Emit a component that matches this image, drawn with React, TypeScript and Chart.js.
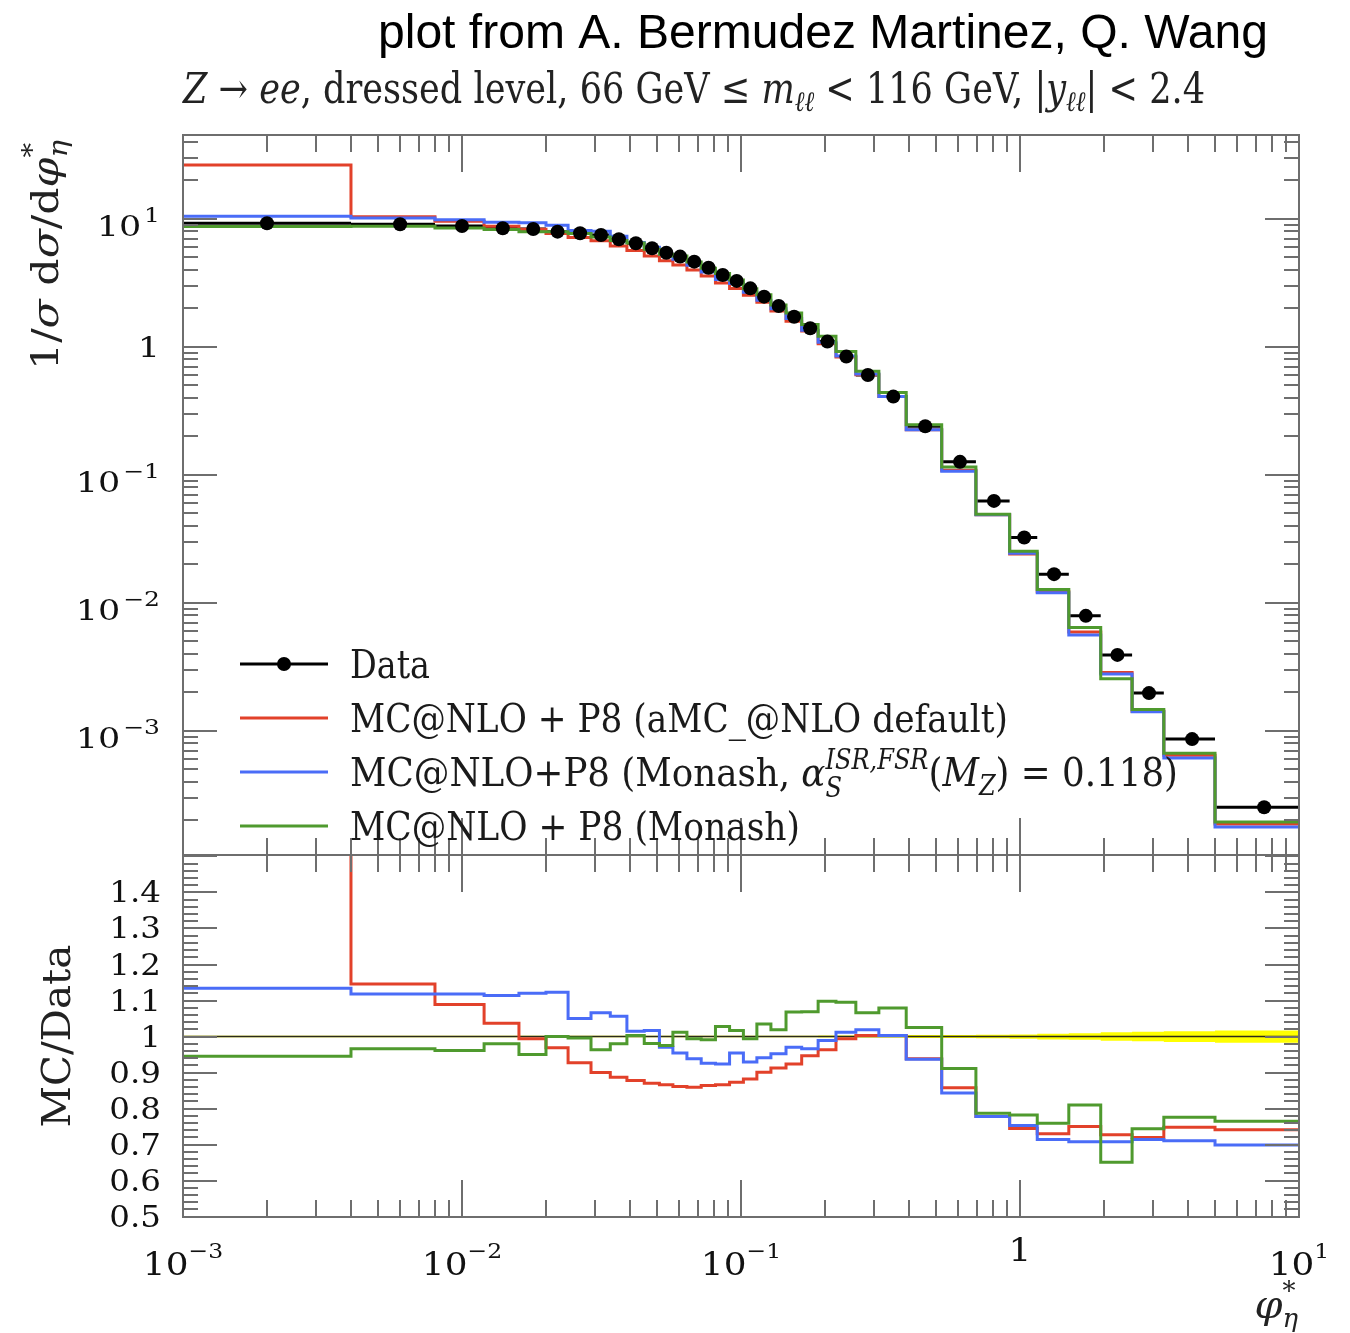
import React, { useEffect, useRef } from 'react';
import { Chart, registerables } from 'chart.js';

Chart.register(...registerables);

// ---------------- data ----------------
const binEdges = [0, 0.004, 0.008, 0.012, 0.016, 0.02, 0.024, 0.029, 0.034, 0.039, 0.045, 0.051, 0.057, 0.064, 0.072, 0.081, 0.091, 0.102, 0.114, 0.128, 0.145, 0.165, 0.189, 0.219, 0.258, 0.312, 0.391, 0.524, 0.695, 0.918, 1.153, 1.496, 1.947, 2.522, 3.277, 5, 10];

const dataValues = [9.26, 9.09, 8.82, 8.46, 8.35, 7.96, 7.73, 7.5, 6.94, 6.46, 5.9, 5.45, 5.08, 4.64, 4.16, 3.65, 3.28, 2.87, 2.47, 2.09, 1.72, 1.4, 1.1, 0.84, 0.604, 0.409, 0.24, 0.1264, 0.0626, 0.0324, 0.01676, 0.00791, 0.00392, 0.00197, 0.000861, 0.000253];

const dataRelErr = [0.002, 0.002, 0.002, 0.002, 0.002, 0.002, 0.002, 0.002, 0.002, 0.002, 0.002, 0.002, 0.002, 0.002, 0.002, 0.002, 0.002, 0.002, 0.002, 0.002, 0.002, 0.002, 0.003, 0.003, 0.003, 0.003, 0.004, 0.004, 0.005, 0.006, 0.008, 0.009, 0.012, 0.013, 0.015, 0.017];

// MC@NLO + P8 (aMC_@NLO default)
const amcDefault = [26.4, 10.42, 9.6, 8.77, 8.3, 7.71, 7.17, 6.75, 6.16, 5.67, 5.13, 4.72, 4.37, 3.99, 3.59, 3.16, 2.86, 2.53, 2.23, 1.91, 1.59, 1.33, 1.06, 0.835, 0.606, 0.41, 0.225, 0.1085, 0.0487, 0.0241, 0.01223, 0.00593, 0.00285, 0.00142, 0.000644, 0.000187];
// MC@NLO+P8 (Monash, alphaS = 0.118)
const monashAlphaS = [10.5, 10.16, 9.86, 9.42, 9.35, 8.94, 8.12, 8.0, 7.33, 6.56, 6.0, 5.29, 4.85, 4.35, 3.85, 3.37, 3.13, 2.67, 2.32, 1.99, 1.67, 1.35, 1.09, 0.85, 0.615, 0.41, 0.225, 0.1066, 0.0487, 0.0244, 0.01197, 0.0056, 0.00278, 0.00141, 0.000612, 0.000177];
// MC@NLO + P8 (Monash)
const monash = [8.75, 8.78, 8.48, 8.29, 7.93, 7.96, 7.7, 7.22, 6.8, 6.48, 5.79, 5.31, 5.14, 4.61, 4.12, 3.75, 3.34, 2.85, 2.56, 2.13, 1.84, 1.5, 1.21, 0.92, 0.644, 0.441, 0.246, 0.1151, 0.0493, 0.0253, 0.01272, 0.00641, 0.00255, 0.00147, 0.000668, 0.000194];

const amcDefaultRatio = [2.85, 1.146, 1.089, 1.037, 0.994, 0.969, 0.927, 0.9, 0.887, 0.878, 0.87, 0.866, 0.861, 0.859, 0.864, 0.866, 0.873, 0.882, 0.901, 0.913, 0.924, 0.947, 0.963, 0.994, 1.003, 1.003, 0.938, 0.858, 0.778, 0.745, 0.73, 0.75, 0.727, 0.72, 0.748, 0.741];
const monashAlphaSRatio = [1.134, 1.118, 1.118, 1.114, 1.12, 1.123, 1.05, 1.066, 1.056, 1.015, 1.017, 0.97, 0.954, 0.938, 0.926, 0.924, 0.954, 0.929, 0.941, 0.952, 0.97, 0.966, 0.989, 1.012, 1.019, 1.003, 0.937, 0.843, 0.778, 0.753, 0.714, 0.708, 0.708, 0.714, 0.711, 0.699];
const monashRatio = [0.945, 0.966, 0.961, 0.98, 0.95, 1.0, 0.996, 0.963, 0.98, 1.003, 0.981, 0.975, 1.012, 0.994, 0.991, 1.028, 1.017, 0.994, 1.035, 1.019, 1.068, 1.069, 1.098, 1.095, 1.066, 1.079, 1.025, 0.911, 0.787, 0.782, 0.759, 0.81, 0.651, 0.744, 0.776, 0.765];

// tick labels
const xTickValues = [1e-3, 1e-2, 1e-1, 1, 10];
const xTickLabels: [string, string][] = [['10', '−3'], ['10', '−2'], ['10', '−1'], ['1', ''], ['10', '1']];
const upperTickValues = [10, 1, 0.1, 0.01, 0.001];
const upperTickLabels: [string, string][] = [['10', '1'], ['1', ''], ['10', '−1'], ['10', '−2'], ['10', '−3']];
const ratioTickValues = [1.4, 1.3, 1.2, 1.1, 1, 0.9, 0.8, 0.7, 0.6, 0.5];
const ratioTickLabels = ['1.4', '1.3', '1.2', '1.1', '1', '0.9', '0.8', '0.7', '0.6', '0.5'];

const TITLE = 'plot from A. Bermudez Martinez, Q. Wang';

// ---------------- style ----------------
const X_MIN = 1e-3, X_MAX = 10;
const Y_MIN = 1.07e-4, Y_MAX = 45.3;
const R_MIN = 0.499, R_MAX = 1.504;
const RED = '#e2412a', BLUE = '#4a6cf7', GREEN = '#4f9a2e';
const TICK_COLOR = '#6e6e6e';
const LOWER_TOP = 850;
const SERIF = '"DejaVu Serif", "Liberation Serif", serif';
const SANS = '"Liberation Sans", Arial, sans-serif';

type Seg = { t: string; size: number; italic?: boolean; family?: string; dy?: number; hold?: boolean };

function fontOf(s: Seg) {
  return `${s.italic ? 'italic ' : ''}${s.size}px ${s.family ?? SERIF}`;
}
function richWidth(ctx: CanvasRenderingContext2D, segs: Seg[]) {
  let w = 0, held = 0;
  for (const s of segs) {
    ctx.font = fontOf(s);
    const m = ctx.measureText(s.t).width;
    if (s.hold) held = Math.max(held, m);
    else { w += Math.max(m, held); held = 0; }
  }
  return w + held;
}
function drawRich(ctx: CanvasRenderingContext2D, segs: Seg[], x: number, y: number, align: 'left' | 'right' | 'center', width?: number, stretch = 1) {
  const nat = richWidth(ctx, segs);
  const sx = width ? width / nat : stretch;
  const total = nat * sx;
  const x0 = align === 'left' ? x : align === 'right' ? x - total : x - total / 2;
  ctx.save();
  ctx.translate(x0, y);
  ctx.scale(sx, 1);
  ctx.textAlign = 'left';
  ctx.textBaseline = 'alphabetic';
  let cx = 0, held = 0;
  for (const s of segs) {
    ctx.font = fontOf(s);
    ctx.fillText(s.t, cx, s.dy ?? 0);
    const m = ctx.measureText(s.t).width;
    if (s.hold) held = Math.max(held, m);
    else { cx += Math.max(m, held); held = 0; }
  }
  ctx.restore();
}

// axis tick positions
const xMajorTicks = [1e-3, 1e-2, 1e-1, 1, 10];
const xMinorTicks: number[] = [];
for (let d = -3; d <= 0; d++) for (let k = 2; k <= 9; k++) xMinorTicks.push(k * Math.pow(10, d));
const upperMajor = [1e-3, 1e-2, 1e-1, 1, 10];
const upperMinor: number[] = [];
for (let d = -4; d <= 1; d++) for (let k = 2; k <= 9; k++) {
  const v = k * Math.pow(10, d);
  if (v > Y_MIN && v < Y_MAX) upperMinor.push(v);
}
const ratioMajor: number[] = [];
const ratioMinor: number[] = [];
for (let k = 25; k <= 75; k++) {
  if (k % 5 === 0) ratioMajor.push(k / 50); else ratioMinor.push(k / 50);
}

function stepPoints(vals: number[]) {
  const pts = vals.map((v, i) => ({ x: Math.max(binEdges[i], X_MIN), y: v }));
  pts.push({ x: binEdges[binEdges.length - 1], y: vals[vals.length - 1] });
  return pts;
}

function framePlugin(yMajor: number[], yMinor: number[]) {
  return {
    id: 'frameTicks',
    afterDatasetsDraw(chart: any) {
      const { ctx, chartArea: a } = chart;
      const xs = chart.scales.x, ys = chart.scales.y;
      ctx.save();
      ctx.strokeStyle = TICK_COLOR;
      ctx.lineWidth = 2;
      ctx.beginPath();
      const vx = (v: number, len: number) => {
        const p = Math.round(xs.getPixelForValue(v));
        ctx.moveTo(p, a.top); ctx.lineTo(p, a.top + len);
        ctx.moveTo(p, a.bottom); ctx.lineTo(p, a.bottom - len);
      };
      const hy = (v: number, len: number) => {
        const p = Math.round(ys.getPixelForValue(v));
        ctx.moveTo(a.left, p); ctx.lineTo(a.left + len, p);
        ctx.moveTo(a.right, p); ctx.lineTo(a.right - len, p);
      };
      xMajorTicks.forEach((v) => vx(v, 37));
      xMinorTicks.forEach((v) => vx(v, 17));
      yMajor.forEach((v) => hy(v, 34));
      yMinor.forEach((v) => hy(v, 15));
      ctx.stroke();
      ctx.strokeRect(a.left, a.top, a.right - a.left, a.bottom - a.top);
      ctx.restore();
    },
  };
}

const errorBarPlugin = {
  id: 'dataErrorBars',
  beforeDatasetsDraw(chart: any) {
    const { ctx, chartArea: a } = chart;
    const xs = chart.scales.x, ys = chart.scales.y;
    ctx.save();
    ctx.beginPath();
    ctx.rect(a.left, a.top, a.right - a.left, a.bottom - a.top);
    ctx.clip();
    ctx.strokeStyle = '#000';
    ctx.lineWidth = 3;
    ctx.beginPath();
    dataValues.forEach((v, i) => {
      const x0 = xs.getPixelForValue(Math.max(binEdges[i], X_MIN));
      const x1 = xs.getPixelForValue(binEdges[i + 1]);
      const xc = xs.getPixelForValue((binEdges[i] + binEdges[i + 1]) / 2);
      const y = ys.getPixelForValue(v);
      ctx.moveTo(x0, y); ctx.lineTo(x1, y);
      ctx.moveTo(xc, ys.getPixelForValue(v * (1 - dataRelErr[i])));
      ctx.lineTo(xc, ys.getPixelForValue(v * (1 + dataRelErr[i])));
    });
    ctx.stroke();
    ctx.restore();
  },
};

const legendEntries: { color: string; marker: boolean; segs: Seg[]; width: number }[] = [
  { color: '#000', marker: true, segs: [{ t: 'Data', size: 40 }], width: 80 },
  { color: RED, marker: false, segs: [{ t: 'MC@NLO + P8 (aMC_@NLO default)', size: 40 }], width: 658 },
  {
    color: BLUE, marker: false, width: 828, segs: [
      { t: 'MC@NLO+P8 (Monash, ', size: 40 },
      { t: 'α', size: 40, italic: true },
      { t: 'S', size: 27, italic: true, dy: 11, hold: true },
      { t: 'ISR,FSR', size: 27, italic: true, dy: -17 },
      { t: '(', size: 40 },
      { t: 'M', size: 40, italic: true },
      { t: 'Z', size: 27, italic: true, dy: 9 },
      { t: ') = 0.118)', size: 40 },
    ],
  },
  { color: GREEN, marker: false, segs: [{ t: 'MC@NLO + P8 (Monash)', size: 40 }], width: 450 },
];
const legendY = [664, 718, 772, 826];

const upperTextPlugin = {
  id: 'upperText',
  afterDraw(chart: any) {
    const ctx: CanvasRenderingContext2D = chart.ctx;
    const ys = chart.scales.y;
    ctx.save();
    ctx.fillStyle = '#000';
    drawRich(ctx, [{ t: TITLE, size: 48, family: SANS }], 378, 48, 'left', 890);
    ctx.fillStyle = '#222';
    drawRich(ctx, [
      { t: 'Z', size: 42, italic: true },
      { t: ' → ', size: 42 },
      { t: 'ee', size: 42, italic: true },
      { t: ', dressed level, 66 GeV ≤ ', size: 42 },
      { t: 'm', size: 42, italic: true },
      { t: 'ℓℓ', size: 28, italic: true, dy: 8 },
      { t: ' < 116 GeV, |', size: 42 },
      { t: 'y', size: 42, italic: true },
      { t: 'ℓℓ', size: 28, italic: true, dy: 8 },
      { t: '| < 2.4', size: 42 },
    ], 183, 103, 'left', 1022);
    // y label
    ctx.save();
    ctx.translate(58, 255);
    ctx.rotate(-Math.PI / 2);
    drawRich(ctx, [
      { t: '1/', size: 38 },
      { t: 'σ', size: 38, italic: true },
      { t: ' d', size: 38 },
      { t: 'σ', size: 38, italic: true },
      { t: '/d', size: 38 },
      { t: 'φ', size: 38, italic: true },
      { t: '*', size: 26, dy: -17, hold: true },
      { t: 'η', size: 26, italic: true, dy: 9 },
    ], 0, 0, 'center', 230);
    ctx.restore();
    // y tick labels
    ctx.fillStyle = '#111';
    upperTickValues.forEach((v, i) => {
      const py = ys.getPixelForValue(v);
      const [base, exp] = upperTickLabels[i];
      if (exp) {
        drawRich(ctx, [{ t: base, size: 28 }, { t: ' ', size: 7 }, { t: exp, size: 20, dy: -14 }], 160, py + 17, 'right', undefined, 1.25);
      } else {
        drawRich(ctx, [{ t: base, size: 28 }], 160, py + 10, 'right', undefined, 1.25);
      }
    });
    // legend
    legendEntries.forEach((e, i) => {
      const y = legendY[i];
      ctx.strokeStyle = e.color;
      ctx.lineWidth = 3;
      ctx.beginPath();
      ctx.moveTo(240, y); ctx.lineTo(328, y);
      ctx.stroke();
      if (e.marker) {
        ctx.fillStyle = '#000';
        ctx.beginPath();
        ctx.arc(284, y, 7, 0, Math.PI * 2);
        ctx.fill();
      }
      ctx.fillStyle = '#1a1a1a';
      drawRich(ctx, e.segs, 350, y + 14, 'left', e.width);
    });
    ctx.restore();
  },
};

const lowerTextPlugin = {
  id: 'lowerText',
  afterDraw(chart: any) {
    const ctx: CanvasRenderingContext2D = chart.ctx;
    const xs = chart.scales.x, ys = chart.scales.y;
    ctx.save();
    ctx.fillStyle = '#111';
    ratioTickValues.forEach((v, i) => {
      const py = ys.getPixelForValue(v);
      drawRich(ctx, [{ t: ratioTickLabels[i], size: 29 }], 161, py + 10, 'right', undefined, 1.12);
    });
    xTickValues.forEach((v, i) => {
      const px = xs.getPixelForValue(v);
      const [base, exp] = xTickLabels[i];
      if (exp) {
        drawRich(ctx, [{ t: base, size: 32 }, { t: exp, size: 21, dy: -17 }], px, 1275 - LOWER_TOP, 'center', undefined, 1.12);
      } else {
        drawRich(ctx, [{ t: base, size: 32 }], px, 1261 - LOWER_TOP, 'center', undefined, 1.12);
      }
    });
    ctx.fillStyle = '#222';
    drawRich(ctx, [
      { t: 'φ', size: 40, italic: true },
      { t: '*', size: 26, dy: -18, hold: true },
      { t: 'η', size: 26, italic: true, dy: 9 },
    ], 1298, 1318 - LOWER_TOP, 'right');
    ctx.save();
    ctx.translate(70, 1036 - LOWER_TOP);
    ctx.rotate(-Math.PI / 2);
    drawRich(ctx, [{ t: 'MC/Data', size: 40 }], 0, 0, 'center', 183);
    ctx.restore();
    ctx.restore();
  },
};

function lineDs(label: string, vals: number[], color: string) {
  return {
    label,
    data: stepPoints(vals),
    stepped: true,
    borderColor: color,
    backgroundColor: color,
    borderWidth: 3,
    pointRadius: 0,
    fill: false,
  };
}

export default function App() {
  const upRef = useRef<HTMLCanvasElement>(null);
  const loRef = useRef<HTMLCanvasElement>(null);

  useEffect(() => {
    const dataPoints = dataValues.map((v, i) => ({ x: (binEdges[i] + binEdges[i + 1]) / 2, y: v }));
    const up = new Chart(upRef.current!, {
      type: 'line',
      data: {
        datasets: [
          { label: 'Data', data: dataPoints, showLine: false, pointRadius: 7, pointBackgroundColor: '#000', pointBorderColor: '#000', pointBorderWidth: 0, borderColor: '#000' } as any,
          lineDs('MC@NLO + P8 (Monash)', monash, GREEN),
          lineDs('MC@NLO+P8 (Monash, alphaS(MZ) = 0.118)', monashAlphaS, BLUE),
          lineDs('MC@NLO + P8 (aMC_@NLO default)', amcDefault, RED),
        ],
      },
      options: {
        responsive: false,
        animation: false,
        devicePixelRatio: 1,
        events: [],
        layout: { padding: { left: 183, right: 51, top: 135, bottom: 7 } },
        plugins: { legend: { display: false }, tooltip: { enabled: false }, title: { display: false } },
        scales: {
          x: { type: 'logarithmic', min: X_MIN, max: X_MAX, display: false },
          y: { type: 'logarithmic', min: Y_MIN, max: Y_MAX, display: false },
        },
      } as any,
      plugins: [errorBarPlugin, framePlugin(upperMajor, upperMinor), upperTextPlugin] as any,
    });

    const dataRatio = dataValues.map((v) => v / v);
    const bandHi = dataRatio.map((r, i) => r + dataRelErr[i]);
    const bandLo = dataRatio.map((r, i) => r - dataRelErr[i]);
    const lo = new Chart(loRef.current!, {
      type: 'line',
      data: {
        datasets: [
          lineDs('MC@NLO + P8 (Monash)', monashRatio, GREEN),
          lineDs('MC@NLO+P8 (Monash, alphaS(MZ) = 0.118)', monashAlphaSRatio, BLUE),
          lineDs('MC@NLO + P8 (aMC_@NLO default)', amcDefaultRatio, RED),
          { ...lineDs('Data', dataRatio, '#2b2b1a'), borderWidth: 1.5 },
          { label: 'band+', data: stepPoints(bandHi), stepped: true, borderColor: 'rgba(0,0,0,0)', borderWidth: 1, pointRadius: 0, fill: '+1', backgroundColor: '#ffff00' },
          { label: 'band-', data: stepPoints(bandLo), stepped: true, borderColor: 'rgba(0,0,0,0)', borderWidth: 1, pointRadius: 0, fill: false },
        ],
      },
      options: {
        responsive: false,
        animation: false,
        devicePixelRatio: 1,
        events: [],
        layout: { padding: { left: 183, right: 51, top: 855 - LOWER_TOP, bottom: 1333 - 1217 } },
        plugins: { legend: { display: false }, tooltip: { enabled: false }, title: { display: false } },
        scales: {
          x: { type: 'logarithmic', min: X_MIN, max: X_MAX, display: false },
          y: { type: 'linear', min: R_MIN, max: R_MAX, display: false },
        },
      } as any,
      plugins: [framePlugin(ratioMajor, ratioMinor), lowerTextPlugin] as any,
    });

    return () => {
      up.destroy();
      lo.destroy();
    };
  }, []);

  return (
    <div style={{ position: 'absolute', left: 0, top: 0, width: 1350, height: 1333, background: '#fff' }}>
      <canvas ref={upRef} width={1350} height={862} style={{ position: 'absolute', left: 0, top: 0 }} />
      <canvas ref={loRef} width={1350} height={483} style={{ position: 'absolute', left: 0, top: LOWER_TOP }} />
    </div>
  );
}
